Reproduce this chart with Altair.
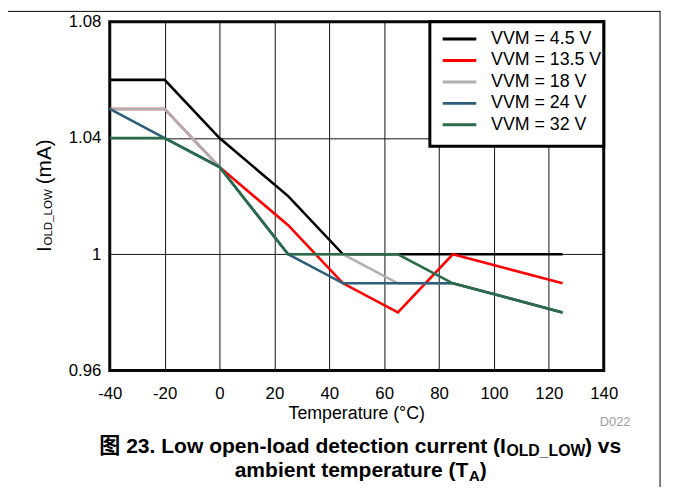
import altair as alt
import pandas as pd

# ---- data ----
temps = [-40, -20, 0, 25, 45, 65, 85, 105, 125]
series_names = ["VVM = 4.5 V", "VVM = 13.5 V", "VVM = 18 V", "VVM = 24 V", "VVM = 32 V"]
v_4p5 = [1.06, 1.06, 1.04, 1.02, 1.00, 1.00, 1.00, 1.00, 1.00]
v_13p5 = [1.05, 1.05, 1.03, 1.01, 0.99, 0.98, 1.00, 0.995, 0.99]
v_18 = [1.05, 1.05, 1.03, 1.00, 1.00, 0.99, 0.99, 0.985, 0.98]
v_24 = [1.05, 1.04, 1.03, 1.00, 0.99, 0.99, 0.99, 0.985, 0.98]
v_32 = [1.04, 1.04, 1.03, 1.00, 1.00, 1.00, 0.99, 0.985, 0.98]
colors = ["#000000", "#ff0000", "#b0b0b0", "#2d5f7a", "#2b6b4a"]
x_ticks = [-40, -20, 0, 20, 40, 60, 80, 100, 120, 140]
y_ticks = [0.96, 1.0, 1.04, 1.08]

rows = []
for name, vals in zip(series_names, [v_4p5, v_13p5, v_18, v_24, v_32]):
    for t, v in zip(temps, vals):
        rows.append({"T": t, "I": v, "series": name})
df = pd.DataFrame(rows)

FONT = "Liberation Sans"
CAPFONT = "'Liberation Sans', 'Noto Sans CJK SC'"

lines = alt.Chart(df).mark_line(strokeWidth=2.6).encode(
    x=alt.X("T:Q",
            scale=alt.Scale(domain=[-40, 140], nice=False, zero=False),
            axis=alt.Axis(values=x_ticks, title=None, grid=True, labelPadding=15,
                          labelFlush=False, labelOverlap=False,
                          labelExpr="'' + datum.value")),
    y=alt.Y("I:Q",
            scale=alt.Scale(domain=[0.96, 1.08], nice=False, zero=False),
            axis=alt.Axis(values=y_ticks, title=None, grid=True, labelPadding=9,
                          labelFlush=False, labelOverlap=False,
                          labelExpr="datum.value == 1 ? '1' : format(datum.value, '.2f')")),
    color=alt.Color("series:N",
                    scale=alt.Scale(domain=series_names, range=colors),
                    legend=alt.Legend(title=None, orient="none", legendX=333, legendY=8.5,
                                      symbolType="M-3.4,0H3.4", symbolSize=100,
                                      symbolOffset=12,
                                      symbolStrokeWidth=3, labelFontSize=18,
                                      labelFont=FONT, labelColor="black",
                                      labelOffset=23, rowPadding=3.7, padding=0,
                                      labelLimit=300)),
    detail="series:N",
)

one = pd.DataFrame({"k": [0]})

legend_box = alt.Chart(one).mark_rect(fill="white", stroke="black", strokeWidth=3).encode(
    x=alt.value(324), x2=alt.value(500), y=alt.value(0), y2=alt.value(126))


def txt(s, x, y, size, bold=False, align="left", angle=0, color="black", font=FONT):
    kw = dict(text=s, fontSize=size, align=align, baseline="alphabetic",
              color=color, font=font, fontWeight="bold" if bold else "normal")
    if angle:
        kw["angle"] = angle
    return alt.Chart(one).mark_text(**kw).encode(x=alt.value(x), y=alt.value(y))


texts = [
    # x-axis title
    txt("Temperature (°C)", 250, 402, 18, align="center"),
    # y-axis title with subscript
    txt("I", -59, 233, 21, angle=270),
    txt("OLD_LOW", -58, 226.5, 11.7, angle=270),
    txt("(mA)", -59, 164.5, 21, angle=270),
    # figure id
    txt("D022", 511.5, 409, 13, align="center", color="#a0a0a0"),
    # caption line 1
    txt("图 23. Low open-load detection current (I", 401, 436, 21.3, bold=True,
        align="right", font=CAPFONT),
    txt("OLD_LOW", 401.5, 440, 16, bold=True, font=CAPFONT),
    txt(") vs", 481, 436, 21.3, bold=True, font=CAPFONT),
    # caption line 2
    txt("ambient temperature (T", 363, 461, 21.3, bold=True, align="right", font=CAPFONT),
    txt("A", 363.5, 465, 15, bold=True, font=CAPFONT),
    txt(")", 374.5, 461, 21.3, bold=True, font=CAPFONT),
]

top_rule = alt.Chart(one).mark_rule(color="black", strokeWidth=1).encode(
    x=alt.value(-103), x2=alt.value(557), y=alt.value(-10.5))
right_rule = alt.Chart(one).mark_rule(color="black", strokeWidth=1).encode(
    x=alt.value(557), y=alt.value(-11), y2=alt.value(471))

chart = alt.layer(lines, legend_box, *texts, top_rule, right_rule).properties(
    width=500, height=353,
    padding={"left": 103, "top": 11, "right": 62, "bottom": 118},
    autosize=alt.AutoSizeParams(type="none"),
    background="white",
).configure_view(
    stroke="black", strokeWidth=3
).configure_axis(
    labelFont=FONT, labelFontSize=17, labelColor="black",
    gridColor="#111111", gridWidth=1, gridOpacity=1,
    domain=False, ticks=False, tickSize=0,
)

chart.save("out.html", embed_options={"renderer": "svg", "actions": False})
